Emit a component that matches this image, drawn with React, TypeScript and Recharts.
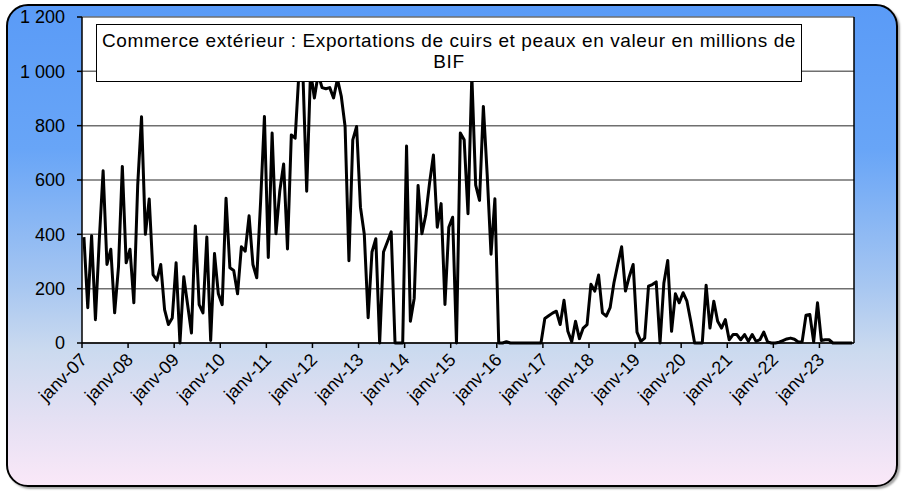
import { LineChart, Line, XAxis, YAxis, CartesianGrid, ReferenceLine } from 'recharts';

// Exportations de cuirs et peaux, millions de BIF, une valeur par mois
const v2007 = [390, 130, 395, 86, 380, 634, 289, 345, 111, 280, 650, 295];
const v2008 = [345, 148, 580, 833, 400, 530, 252, 231, 289, 123, 68, 92];
const v2009 = [295, 0, 244, 141, 37, 431, 141, 111, 390, 9, 329, 181];
const v2010 = [141, 533, 277, 267, 181, 354, 338, 468, 289, 240, 520, 834];
const v2011 = [315, 773, 402, 560, 659, 346, 766, 754, 1000, 1000, 559, 1000];
const v2012 = [902, 990, 940, 936, 940, 902, 972, 909, 797, 303, 748, 797];
const v2013 = [500, 400, 93, 335, 384, 0, 335, 372, 409, 0, 0, 0];
const v2014 = [725, 80, 165, 580, 402, 470, 590, 692, 426, 513, 142, 426];
const v2015 = [463, 0, 773, 748, 476, 985, 581, 525, 871, 620, 327, 531];
const v2016 = [0, 0, 5, 0, 0, 0, 0, 0, 0, 0, 0, 0];
const v2017 = [90, 100, 110, 117, 68, 157, 43, 5, 80, 16, 55, 68];
const v2018 = [216, 191, 250, 111, 99, 130, 222, 290, 354, 191, 245, 289];
const v2019 = [40, 6, 18, 209, 215, 225, 0, 221, 304, 43, 181, 148];
const v2020 = [185, 154, 80, 0, 0, 0, 213, 55, 154, 80, 55, 86];
const v2021 = [12, 31, 31, 12, 31, 6, 31, 6, 12, 40, 4, 0];
const v2022 = [0, 3, 9, 15, 18, 14, 4, 5, 102, 105, 4, 148];
const v2023 = [9, 12, 12, 0, 0, 0, 0, 0, 0];

const yearLabels = [
  'janv-07', 'janv-08', 'janv-09', 'janv-10', 'janv-11', 'janv-12', 'janv-13', 'janv-14', 'janv-15',
  'janv-16', 'janv-17', 'janv-18', 'janv-19', 'janv-20', 'janv-21', 'janv-22', 'janv-23',
];
const yTicks = [0, 200, 400, 600, 800, 1000, 1200];

const monthly = [
  ...v2007, ...v2008, ...v2009, ...v2010, ...v2011, ...v2012, ...v2013, ...v2014, ...v2015,
  ...v2016, ...v2017, ...v2018, ...v2019, ...v2020, ...v2021, ...v2022, ...v2023,
];
const data = monthly.map((v, i) => ({ m: i + 0.5, v }));
const xTicks = yearLabels.map((_, i) => i * 12);

const FONT = '"Liberation Sans", Arial, sans-serif';

const fmt = (n: number) => String(n).replace(/\B(?=(\d{3})+(?!\d))/g, ' ');

const XTick = ({ x, y, payload }: any) => (
  <g transform={`translate(${x + 6},${y + 11})`}>
    <text textAnchor="end" transform="rotate(-45)" fontSize={18} fill="#000" fontFamily={FONT}>
      {yearLabels[Math.round(payload.value / 12)]}
    </text>
  </g>
);

export default function App() {
  return (
    <div style={{ position: 'absolute', left: 0, top: 0, width: 902, height: 491, background: '#fff' }}>
      <div
        style={{
          position: 'absolute',
          left: 6,
          top: 4,
          width: 888,
          height: 479,
          border: '2px solid #000',
          borderRadius: 22,
          boxShadow: '2px 2px 2px rgba(0,0,0,0.35)',
          background:
            'linear-gradient(to bottom, #5a9bf7 0%, #68a5f7 30%, #a6c6f1 58%, #cbdaef 72%, #e4e0f3 86%, #fae8f8 100%)',
        }}
      />
      <div style={{ position: 'absolute', left: 0, top: 0 }}>
        <LineChart width={902} height={491} data={data} margin={{ top: 17, right: 48, left: 10, bottom: 88 }}>
          <CartesianGrid horizontal vertical={false} stroke="#6f6f6f" strokeWidth={1.5} fill="#fff" />
          <XAxis
            dataKey="m"
            type="number"
            domain={[0, 201]}
            ticks={xTicks}
            interval={0}
            height={60}
            tickSize={5}
            tick={<XTick />}
            axisLine={{ stroke: '#000', strokeWidth: 1.5 }}
            tickLine={{ stroke: '#000', strokeWidth: 1.5 }}
          />
          <YAxis
            domain={[0, 1200]}
            ticks={yTicks}
            interval={0}
            width={72}
            tickSize={5}
            tickMargin={12}
            tickFormatter={fmt}
            tick={{ fill: '#000', fontSize: 18, fontFamily: FONT }}
            axisLine={{ stroke: '#000', strokeWidth: 1.5 }}
            tickLine={{ stroke: '#000', strokeWidth: 1.5 }}
          />
          <ReferenceLine x={201} stroke="#000" strokeWidth={1.5} />
          <Line
            type="linear"
            dataKey="v"
            stroke="#000"
            strokeWidth={3}
            strokeLinejoin="round"
            dot={false}
            isAnimationActive={false}
          />
        </LineChart>
      </div>
      <div
        style={{
          position: 'absolute',
          left: 96,
          top: 24,
          width: 704,
          height: 51,
          border: '1px solid #000',
          background: '#fff',
          fontFamily: FONT,
          fontSize: 19,
          letterSpacing: 0.6,
          lineHeight: '21px',
          textAlign: 'center',
          color: '#000',
          paddingTop: 5,
          boxSizing: 'content-box',
        }}
      >
        Commerce extérieur : Exportations de cuirs et peaux en valeur en millions de
        <br />
        BIF
      </div>
    </div>
  );
}
